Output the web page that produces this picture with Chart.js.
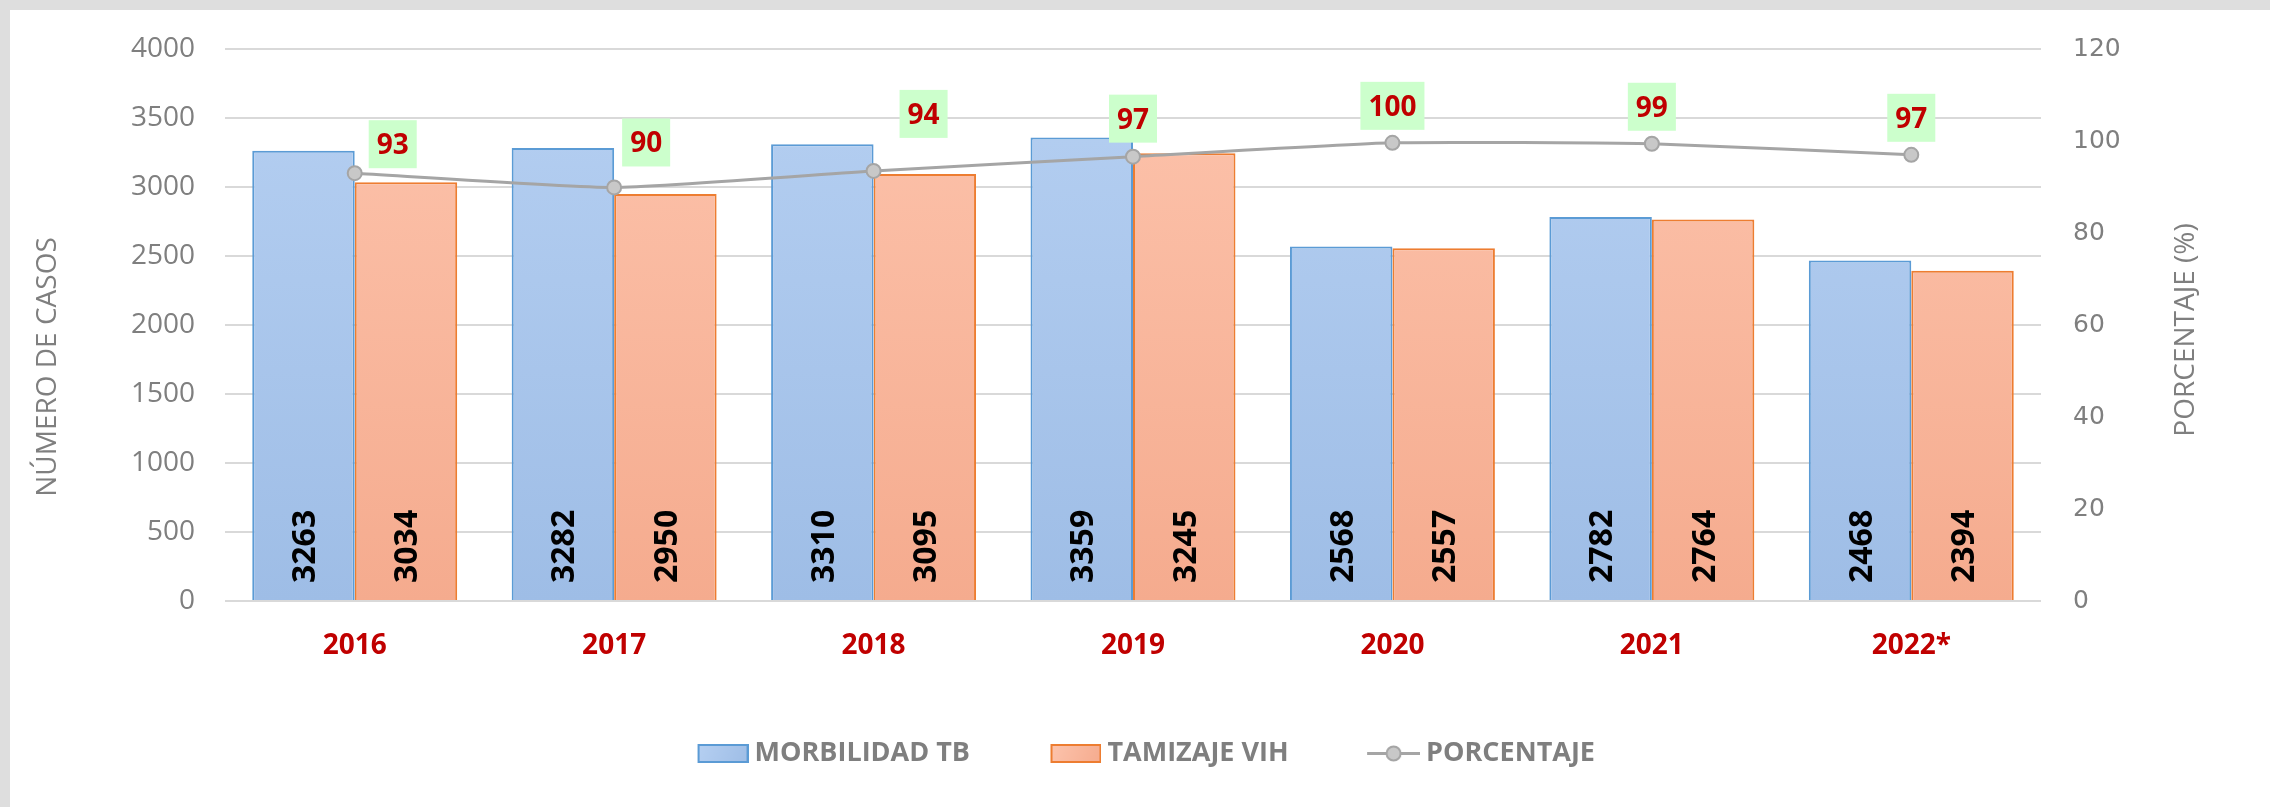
<!doctype html>
<html lang="es">
  <head>
    <meta charset="utf-8">
    <title>Morbilidad TB y tamizaje VIH</title>
    <style>
      * {
        margin: 0;
        padding: 0;
      }
      body {
        width: 2270px;
        height: 807px;
        background: #dedede;
        overflow: hidden;
      }
      .chartBox {
        position: absolute;
        left: 10px;
        top: 10px;
        width: 2260px;
        height: 797px;
        background: #fff;
      }
    </style>
  </head>
  <body>
    <div class="chartBox">
      <canvas id="myChart"></canvas>
    </div>
    <script src="https://cdn.jsdelivr.net/npm/chart.js"></script>
    <script>
    // data
    const years = ['2016', '2017', '2018', '2019', '2020', '2021', '2022*'];
    const morbilidadTB = [3263, 3282, 3310, 3359, 2568, 2782, 2468];
    const tamizajeVIH = [3034, 2950, 3095, 3245, 2557, 2764, 2394];
    const porcentaje = [93.0, 89.9, 93.5, 96.6, 99.6, 99.4, 97.0];
    const porcentajeLabels = ['93', '90', '94', '97', '100', '99', '97'];
    const casosTicks = [0, 500, 1000, 1500, 2000, 2500, 3000, 3500, 4000];
    const pctTicks = [0, 20, 40, 60, 80, 100, 120];

    // where each green label box sits relative to its point (px)
    const labelNudge = [[38, -29], [32, -45], [50, -57], [0, -38], [0, -37], [0, -37], [0, -37]];

    const GRAY = '#7f7f7f';
    const FONT = '"Open Sans", sans-serif';
    Chart.defaults.font.family = FONT;

    function barFill(top, bottom) {
      return (c) => {
        const area = c.chart.chartArea;
        if (!area) return top;
        const g = c.chart.ctx.createLinearGradient(0, area.top, 0, area.bottom);
        g.addColorStop(0, top);
        g.addColorStop(1, bottom);
        return g;
      };
    }

    // legend swatches: the mark sits at the right end, the blank on the left spaces the items
    const SW_W = 71;
    function boxSwatch(top, bottom, stroke) {
      const c = document.createElement('canvas');
      c.width = SW_W; c.height = 19;
      const g = c.getContext('2d');
      const x0 = SW_W - 51;
      const gr = g.createLinearGradient(x0, 0, SW_W, 19);
      gr.addColorStop(0, top);
      gr.addColorStop(1, bottom);
      g.fillStyle = gr;
      g.fillRect(x0 + 1, 1, 49, 17);
      g.strokeStyle = stroke;
      g.lineWidth = 2;
      g.strokeRect(x0 + 1, 1, 49, 17);
      return c;
    }

    function lineSwatch() {
      const c = document.createElement('canvas');
      c.width = SW_W; c.height = 19;
      const g = c.getContext('2d');
      const x0 = SW_W - 53;
      g.strokeStyle = '#a5a5a5';
      g.lineWidth = 3;
      g.beginPath(); g.moveTo(x0, 9.5); g.lineTo(SW_W, 9.5); g.stroke();
      g.fillStyle = '#c8c8c8';
      g.lineWidth = 2;
      g.beginPath(); g.arc(x0 + 26.5, 9.5, 7, 0, Math.PI * 2); g.fill(); g.stroke();
      return c;
    }

    const swatches = [
      boxSwatch('#b6d0f2', '#9ebde6', '#5b9bd5'),
      boxSwatch('#fdc4ad', '#f5ab8e', '#ed7d31'),
      lineSwatch()
    ];

    // labels drawn over the marks
    const labelsPlugin = {
      id: 'labelsPlugin',
      afterDatasetsDraw(chart) {
        const ctx = chart.ctx;
        const base = chart.scales.y.getPixelForValue(0);
        ctx.save();

        ctx.font = 'bold 32px ' + FONT;
        ctx.fillStyle = '#000';
        ctx.textAlign = 'left';
        ctx.textBaseline = 'alphabetic';
        [0, 1].forEach(di => {
          chart.getDatasetMeta(di).data.forEach((bar, i) => {
            ctx.save();
            ctx.translate(bar.x, base - 18);
            ctx.rotate(-Math.PI / 2);
            ctx.fillText(String(chart.data.datasets[di].data[i]), 0, 11.5);
            ctx.restore();
          });
        });

        ctx.font = 'bold 28px ' + FONT;
        ctx.textAlign = 'center';
        chart.getDatasetMeta(2).data.forEach((pt, i) => {
          const txt = porcentajeLabels[i];
          const w = ctx.measureText(txt).width + 16;
          const h = 48;
          const cx = pt.x + labelNudge[i][0];
          const cy = pt.y + labelNudge[i][1];
          ctx.fillStyle = '#ccffcc';
          ctx.fillRect(cx - w / 2, cy - h / 2, w, h);
          ctx.fillStyle = '#c00000';
          ctx.fillText(txt, cx, cy + 10);
        });

        // axis titles (both read bottom to top)
        ctx.font = '28px ' + FONT;
        ctx.fillStyle = GRAY;
        ctx.textBaseline = 'middle';
        [['NÚMERO DE CASOS', 38, 357], ['PORCENTAJE (%)', 2176, 320]].forEach(([t, x, y]) => {
          ctx.save();
          ctx.translate(x, y);
          ctx.rotate(-Math.PI / 2);
          ctx.fillText(t, 0, 0);
          ctx.restore();
        });
        ctx.restore();
      }
    };

    const data = {
      labels: years,
      datasets: [{
        label: 'MORBILIDAD TB',
        data: morbilidadTB,
        backgroundColor: barFill('#b6d0f2', '#9ebde6'),
        borderColor: '#5b9bd5',
        borderWidth: 2,
        yAxisID: 'y',
        order: 1,
        categoryPercentage: 0.79,
        barPercentage: 1.0
      }, {
        label: 'TAMIZAJE VIH',
        data: tamizajeVIH,
        backgroundColor: barFill('#fdc4ad', '#f5ab8e'),
        borderColor: '#ed7d31',
        borderWidth: 2,
        yAxisID: 'y',
        order: 1,
        categoryPercentage: 0.79,
        barPercentage: 1.0
      }, {
        type: 'line',
        label: 'PORCENTAJE',
        data: porcentaje,
        borderColor: '#a5a5a5',
        borderWidth: 3,
        tension: 0.15,
        pointRadius: 7,
        pointBackgroundColor: '#c8c8c8',
        pointBorderColor: '#a5a5a5',
        pointBorderWidth: 2,
        yAxisID: 'y1',
        order: 0
      }]
    };

    // fixed plot box: left 215, right 2031, top 39, bottom 591
    function sideAxisFit(width) {
      return (scale) => {
        scale.width = width;
        scale.paddingTop = 0;
        scale.paddingBottom = 0;
      };
    }

    const config = {
      type: 'bar',
      data,
      options: {
        responsive: true,
        maintainAspectRatio: false,
        animation: false,
        layout: { padding: { top: 39, left: 0, right: 0, bottom: 30 } },
        plugins: {
          tooltip: { enabled: false },
          legend: {
            position: 'bottom',
            labels: {
              usePointStyle: true,
              pointStyleWidth: 56,
              padding: 68,
              color: GRAY,
              font: { size: 27, weight: 'bold' },
              generateLabels(chart) {
                const items = Chart.defaults.plugins.legend.labels.generateLabels(chart);
                items.sort((a, b) => a.datasetIndex - b.datasetIndex);
                items.forEach(it => { it.pointStyle = swatches[it.datasetIndex]; });
                return items;
              }
            }
          }
        },
        scales: {
          x: {
            grid: { display: false },
            border: { display: false },
            ticks: {
              color: '#c00000',
              font: { size: 28, weight: 'bold' },
              padding: 20
            },
            afterFit(scale) {
              scale.height = 797 - 30 - scale.chart.legend.height - 591;
            }
          },
          y: {
            position: 'left',
            min: casosTicks[0],
            max: casosTicks[casosTicks.length - 1],
            border: { display: false },
            grid: { color: '#d9d9d9', lineWidth: 2, drawTicks: false },
            ticks: {
              stepSize: casosTicks[1] - casosTicks[0],
              color: GRAY,
              font: { size: 28 },
              padding: 30,
              callback: (v) => String(v)
            },
            afterFit: sideAxisFit(215)
          },
          y1: {
            position: 'right',
            min: pctTicks[0],
            max: pctTicks[pctTicks.length - 1],
            border: { display: false },
            grid: { display: false, drawTicks: false },
            ticks: {
              stepSize: pctTicks[1] - pctTicks[0],
              color: GRAY,
              font: { size: 25, family: '"DejaVu Sans", sans-serif' },
              padding: 32,
              callback: (v) => String(v)
            },
            afterFit: sideAxisFit(229)
          }
        }
      },
      plugins: [labelsPlugin]
    };

    const myChart = new Chart(document.getElementById('myChart'), config);
    </script>
  </body>
</html>
